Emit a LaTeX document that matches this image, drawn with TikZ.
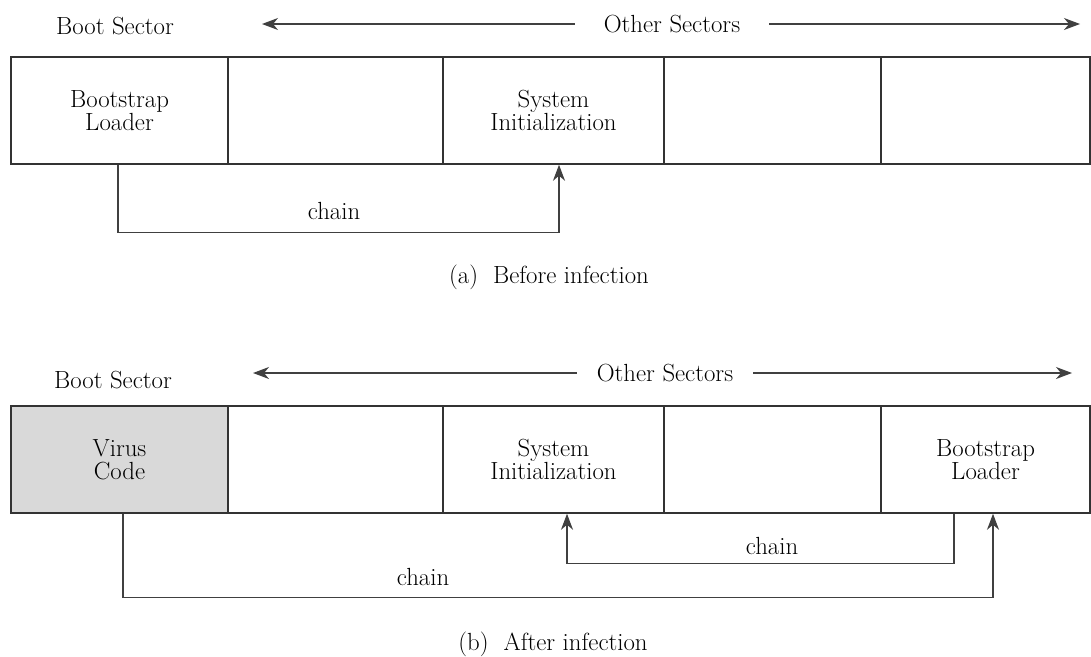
\documentclass[tikz,border=0pt]{standalone}
\usetikzlibrary{arrows.meta, positioning, calc}

\tikzset{
  sector/.style={draw=black!80, line width=1.5pt, minimum height=107pt, inner sep=0pt,
    align=center, font=\fontsize{24.8}{23}\selectfont},
  lbl/.style={font=\fontsize{24.8}{23}\selectfont, inner sep=0pt},
  link/.style={draw=black!75, line width=1.3pt},
  tip/.style={-{Stealth[length=16pt, width=12pt, inset=5pt]}},
}

\begin{document}
\begin{tikzpicture}[x=1pt, y=-1pt]
  \useasboundingbox (0,0) rectangle (1091,656);
  % (a) before infection
  \node[lbl] (bootlblA) at (115,26) {Boot Sector};
  \node[lbl, inner xsep=29pt] (otherA) at (672,24) {Other Sectors};
  \coordinate (leftA) at (262,24);
  \coordinate (rightA) at (1080,24);
  \draw[link,tip] (otherA) -- (leftA);
  \draw[link,tip] (otherA) -- (rightA);
  \node[sector, minimum width=217pt] (bootA) at (119.5,110.5) {Bootstrap\\Loader};
  \node[sector, minimum width=215pt] (emptyA1) at (335.5,110.5) {};
  \node[sector, minimum width=221pt] (sysA) at (553.5,110.5) {System\\Initialization};
  \node[sector, minimum width=217pt] (emptyA2) at (772.5,110.5) {};
  \node[sector, minimum width=209pt] (emptyA3) at (985.5,110.5) {};
  \draw[link,tip] ([xshift=-1.5pt]bootA.south) -- ++(0,68) -| ([xshift=5.5pt]sysA.south);
  \node[lbl] (chainA) at (334,211) {chain};
  \node[lbl] (capA) at (549,277) {(a)\ \ Before infection};

  % (b) after infection
  \node[lbl] (bootlblB) at (113,380) {Boot Sector};
  \node[lbl, inner xsep=20pt] (otherB) at (665,373) {Other Sectors};
  \coordinate (leftB) at (253,373);
  \coordinate (rightB) at (1072,373);
  \draw[link,tip] (otherB) -- (leftB);
  \draw[link,tip] (otherB) -- (rightB);
  \node[sector, fill=black!15, minimum width=217pt] (virus) at (119.5,459.5) {Virus\\Code};
  \node[sector, minimum width=215pt] (emptyB1) at (335.5,459.5) {};
  \node[sector, minimum width=221pt] (sysB) at (553.5,459.5) {System\\Initialization};
  \node[sector, minimum width=217pt] (emptyB2) at (772.5,459.5) {};
  \node[sector, minimum width=209pt] (bootB) at (985.5,459.5) {Bootstrap\\Loader};
  \draw[link,tip] ([xshift=-31.5pt]bootB.south) -- ++(0,50) -| ([xshift=13.5pt]sysB.south);
  \draw[link,tip] ([xshift=3.5pt]virus.south) -- ++(0,84) -| ([xshift=7.5pt]bootB.south);
  \node[lbl] (chainB1) at (772,546) {chain};
  \node[lbl] (chainB2) at (423,577) {chain};
  \node[lbl] (capB) at (553,644) {(b)\ \ After infection};
\end{tikzpicture}
\end{document}
